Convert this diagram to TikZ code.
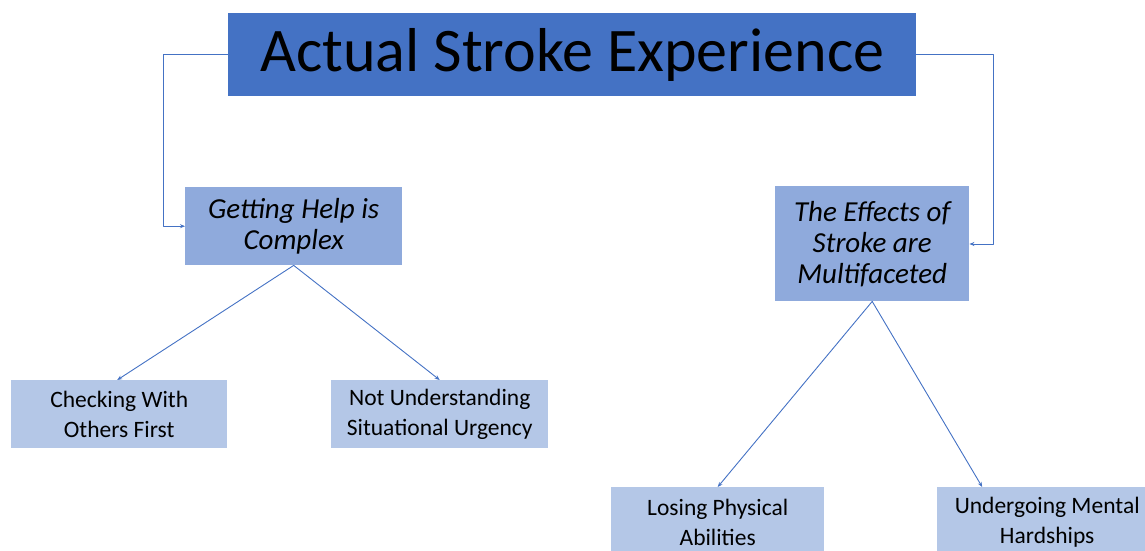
\documentclass[tikz,border=0pt]{standalone}
\usepackage{fontspec}
\setmainfont{Carlito}
\usetikzlibrary{arrows.meta}
\definecolor{topblue}{HTML}{4472C4}
\definecolor{midblue}{HTML}{8FAADC}
\definecolor{lowblue}{HTML}{B4C7E7}
\tikzset{
  box/.style={inner sep=0pt,align=center,anchor=north west},
  themebox/.style={box,fill=midblue,font=\fontsize{29}{31}\selectfont\itshape},
  subbox/.style={box,fill=lowblue,font=\fontsize{23.5}{30}\selectfont},
  link/.style={topblue,line width=0.9pt,-{Stealth[length=5pt,width=4pt]}}
}
\begin{document}
\begin{tikzpicture}[x=1pt,y=-1pt,line cap=round,line join=round]
  \useasboundingbox (0,0) rectangle (1145,551);
  % title
  \node[box,fill=topblue,minimum width=688pt,minimum height=83pt,
        font=\fontsize{62}{70}\selectfont] (title) at (228,13) {Actual Stroke Experience};

  % themes
  \node[themebox,minimum width=217pt,minimum height=78pt] (help) at (185,187)
    {Getting Help is\\Complex};
  \node[themebox,minimum width=194pt,minimum height=115pt] (effects) at (775,186)
    {The Effects of\\Stroke are\\Multifaceted};

  % sub-themes
  \node[subbox,minimum width=216pt,minimum height=68pt] (checking) at (11,380)
    {Checking With\\Others First};
  \node[subbox,minimum width=217pt,minimum height=68pt] (urgency) at (331,380)
    {Not Understanding\\Situational Urgency};
  \node[subbox,minimum width=213pt,minimum height=70pt] (physical) at (611,487)
    {Losing Physical\\Abilities};
  \node[subbox,minimum width=220pt,minimum height=70pt] (mental) at (937,487)
    {Undergoing Mental\\Hardships};

  % elbows from the title
  \draw[link] (title.west) -- ++(-65,0) |- (help.west);
  \draw[link] (title.east) -- ++(77,0) |- ([yshift=-58pt]effects.north east);

  % branches
  \draw[link] (help.south) -- ([xshift=-2pt]checking.north);
  \draw[link] (help.south) -- (urgency.north);
  \draw[link] (effects.south) -- (physical.north);
  \draw[link] (effects.south) -- ([xshift=-65pt]mental.north);
\end{tikzpicture}
\end{document}
